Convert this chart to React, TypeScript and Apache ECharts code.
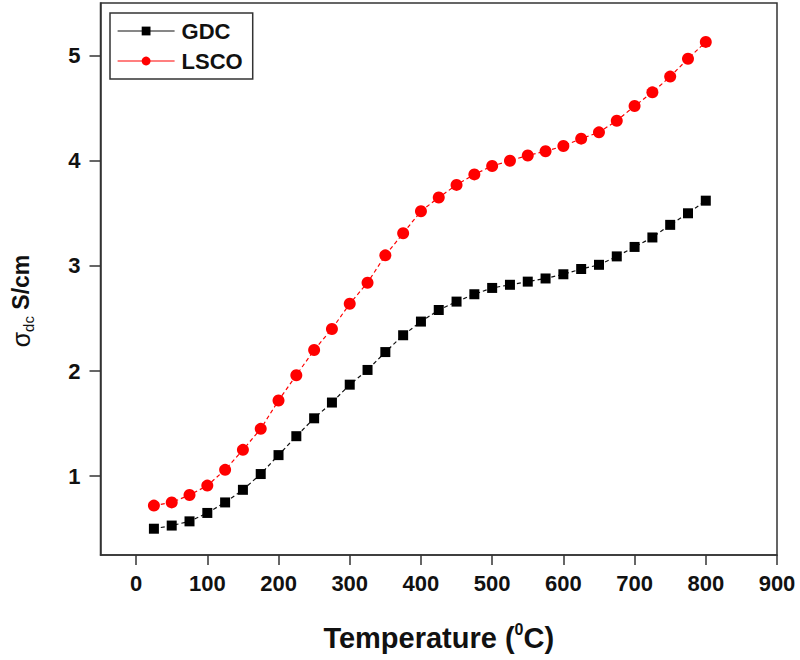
import React, { useEffect, useRef } from "react";
import * as echarts from "echarts";

// Temperature steps (°C)
const temperatures = [
  25, 50, 75, 100, 125, 150, 175, 200, 225, 250, 275, 300, 325, 350, 375, 400,
  425, 450, 475, 500, 525, 550, 575, 600, 625, 650, 675, 700, 725, 750, 775, 800,
];

// DC conductivity (S/cm)
const gdcValues = [
  0.5, 0.53, 0.57, 0.65, 0.75, 0.87, 1.02, 1.2, 1.38, 1.55, 1.7, 1.87, 2.01,
  2.18, 2.34, 2.47, 2.58, 2.66, 2.73, 2.79, 2.82, 2.85, 2.88, 2.92, 2.97, 3.01,
  3.09, 3.18, 3.27, 3.39, 3.5, 3.62,
];
const lscoValues = [
  0.72, 0.75, 0.82, 0.91, 1.06, 1.25, 1.45, 1.72, 1.96, 2.2, 2.4, 2.64, 2.84,
  3.1, 3.31, 3.52, 3.65, 3.77, 3.87, 3.95, 4.0, 4.05, 4.09, 4.14, 4.21, 4.27,
  4.38, 4.52, 4.65, 4.8, 4.97, 5.13,
];

const xTicks = [0, 100, 200, 300, 400, 500, 600, 700, 800, 900];
const yTicks = [1, 2, 3, 4, 5];

const FONT = "'Liberation Sans', Arial, sans-serif";
const AXIS_COLOR = "#333";
const TEXT_COLOR = "#111";

export default function App() {
  const ref = useRef<HTMLDivElement>(null);

  useEffect(() => {
    if (!ref.current) return;
    const chart = echarts.init(ref.current, null, { renderer: "svg" });

    const pairs = (ys: number[]) => temperatures.map((t, i) => [t, ys[i]]);

    chart.setOption({
      animation: false,
      backgroundColor: "#fff",
      textStyle: { fontFamily: FONT },
      grid: {
        left: 97,
        right: 23,
        top: 3,
        bottom: 105,
        show: true,
        borderColor: AXIS_COLOR,
        borderWidth: 1.5,
        backgroundColor: "transparent",
      },
      legend: {
        left: 110,
        top: 13,
        orient: "vertical",
        padding: [7, 10, 7, 7],
        itemGap: 8,
        itemWidth: 57,
        itemHeight: 11,
        borderColor: "#333",
        borderWidth: 1.5,
        lineStyle: { type: "solid", width: 1.2 },
        textStyle: {
          fontFamily: FONT,
          fontSize: 22,
          fontWeight: "bold",
          color: TEXT_COLOR,
          padding: [0, 0, 0, 2],
        },
        data: ["GDC", "LSCO"],
      },
      xAxis: {
        type: "value",
        min: -50,
        max: 900,
        name: "{t|Temperature (}{s|0}{t|C)}",
        nameLocation: "middle",
        nameGap: 66,
        nameTextStyle: {
          rich: {
            t: {
              fontFamily: FONT,
              fontSize: 29,
              fontWeight: "bold",
              color: TEXT_COLOR,
              lineHeight: 34,
            },
            s: {
              fontFamily: FONT,
              fontSize: 16,
              fontWeight: "bold",
              color: TEXT_COLOR,
              verticalAlign: "top",
              lineHeight: 34,
              padding: [0, 0, 14, 0],
            },
          },
        },
        axisLine: {
          show: true,
          onZero: false,
          lineStyle: { color: AXIS_COLOR, width: 1.5 },
        },
        axisTick: {
          show: true,
          inside: false,
          length: 10,
          customValues: xTicks,
          lineStyle: { color: AXIS_COLOR, width: 1.5 },
        },
        axisLabel: {
          customValues: xTicks,
          margin: 17,
          fontFamily: FONT,
          fontSize: 22,
          fontWeight: "bold",
          color: TEXT_COLOR,
        },
        splitLine: { show: false },
      },
      yAxis: {
        type: "value",
        min: 0.25,
        max: 5.5,
        name: "{g|σ}{d|dc}{u| S/cm}",
        nameLocation: "middle",
        nameRotate: 90,
        nameGap: 65,
        nameTextStyle: {
          // extra space at the top end lowers the title along the axis
          padding: [0, 44, 0, 0],
          rich: {
            g: {
              fontFamily: FONT,
              fontSize: 25,
              color: TEXT_COLOR,
              lineHeight: 30,
            },
            d: {
              fontFamily: FONT,
              fontSize: 15,
              color: TEXT_COLOR,
              verticalAlign: "bottom",
              lineHeight: 30,
              padding: [12, 0, 0, 0],
            },
            u: {
              fontFamily: FONT,
              fontSize: 23,
              fontWeight: "bold",
              color: TEXT_COLOR,
              lineHeight: 30,
            },
          },
        },
        axisLine: {
          show: true,
          onZero: false,
          lineStyle: { color: AXIS_COLOR, width: 1.5 },
        },
        axisTick: {
          show: true,
          inside: false,
          length: 11,
          customValues: yTicks,
          lineStyle: { color: AXIS_COLOR, width: 1.5 },
        },
        axisLabel: {
          customValues: yTicks,
          margin: 20,
          fontFamily: FONT,
          fontSize: 22,
          fontWeight: "bold",
          color: TEXT_COLOR,
        },
        splitLine: { show: false },
      },
      series: [
        {
          name: "GDC",
          type: "line",
          data: pairs(gdcValues),
          symbol: "rect",
          symbolSize: 10,
          itemStyle: { color: "#000" },
          lineStyle: { color: "#111", width: 1.2, type: [4, 3] },
        },
        {
          name: "LSCO",
          type: "line",
          data: pairs(lscoValues),
          symbol: "circle",
          symbolSize: 12,
          itemStyle: { color: "#ff0000" },
          lineStyle: { color: "#ff0000", width: 1.2, type: [4, 3] },
        },
      ],
    });

    return () => chart.dispose();
  }, []);

  return (
    <div
      ref={ref}
      style={{ position: "absolute", left: 0, top: 0, width: 800, height: 660 }}
    />
  );
}
